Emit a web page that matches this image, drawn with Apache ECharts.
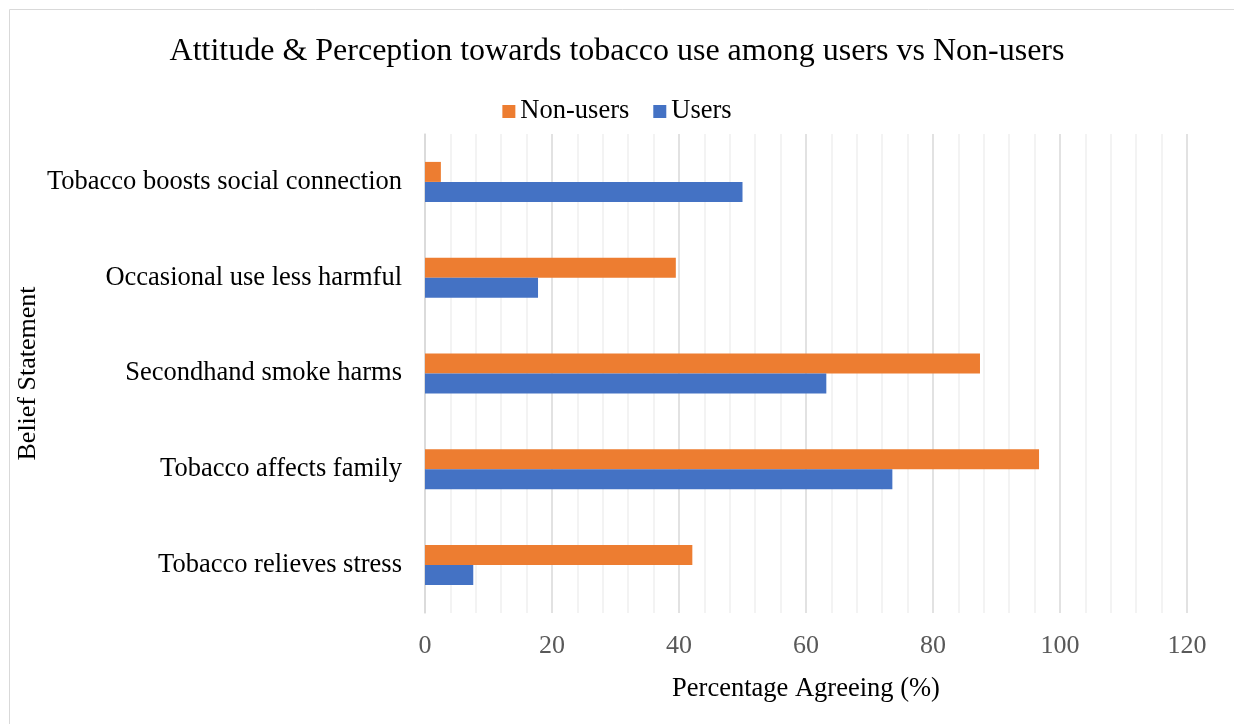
<!DOCTYPE html>
<html>
<head>
<meta charset="utf-8">
<script src="https://cdn.jsdelivr.net/npm/echarts@6/dist/echarts.min.js"></script>
<style>
  html, body { margin: 0; padding: 0; background: #fff; }
  #chart { width: 1234px; height: 724px; }
</style>
</head>
<body>
<div id="chart"></div>
<script>
// 类别，从下到上
const categories = [
  "Tobacco relieves stress",
  "Tobacco affects family",
  "Secondhand smoke harms",
  "Occasional use less harmful",
  "Tobacco boosts social connection"
];
// 数值 (%)
const nonUsers = [42.1, 96.7, 87.4, 39.5, 2.5];
const users = [7.6, 73.6, 63.2, 17.8, 50.0];

const font = "'Liberation Serif', 'Times New Roman', serif";

const myChart = echarts.init(document.getElementById("chart"));
const option = {
  animation: false,
  graphic: [
    {
      type: "rect",
      shape: { x: 9.5, y: 9.5, width: 1300, height: 800 },
      style: { fill: "none", stroke: "#d9d9d9", lineWidth: 1 },
      silent: true
    }
  ],
  title: {
    text: "Attitude & Perception towards tobacco use among users vs Non-users",
    left: "center",
    top: 31,
    textStyle: { fontFamily: font, fontWeight: "normal", fontSize: 32, color: "#000" }
  },
  legend: {
    data: ["Non-users", "Users"],
    top: 93,
    left: "center",
    itemWidth: 13,
    itemHeight: 13,
    itemGap: 24,
    icon: "rect",
    textStyle: { fontFamily: font, fontSize: 26.5, color: "#000" }
  },
  grid: { left: 425, right: 47, top: 134, bottom: 111 },
  xAxis: {
    type: "value",
    min: 0,
    max: 120,
    interval: 20,
    name: "Percentage Agreeing (%)",
    nameLocation: "middle",
    nameGap: 63,
    nameTextStyle: { fontFamily: font, fontSize: 26.5, color: "#000" },
    axisLine: { show: false },
    axisTick: { show: false },
    axisLabel: { fontFamily: font, fontSize: 26, color: "#595959", margin: 20 },
    splitLine: { show: true, lineStyle: { color: "#d9d9d9", width: 1.5 } },
    minorTick: { show: false, splitNumber: 5 },
    minorSplitLine: { show: true, lineStyle: { color: "#f0f0f0", width: 1.5 } }
  },
  yAxis: {
    type: "category",
    data: categories,
    name: "Belief Statement",
    nameLocation: "middle",
    nameRotate: 90,
    nameGap: 384,
    nameMoveOverlap: false,
    nameTextStyle: { fontFamily: font, fontSize: 26, color: "#000" },
    axisLine: { show: true, lineStyle: { color: "#d9d9d9", width: 1.5 } },
    axisTick: { show: false },
    axisLabel: { fontFamily: font, fontSize: 26.5, color: "#000", margin: 23 }
  },
  series: [
    {
      name: "Non-users",
      type: "bar",
      data: nonUsers,
      barWidth: 20,
      barGap: "0%",
      itemStyle: { color: "#ED7D31" }
    },
    {
      name: "Users",
      type: "bar",
      data: users,
      barWidth: 20,
      barGap: "0%",
      itemStyle: { color: "#4472C4" }
    }
  ]
};
myChart.setOption(option);
</script>
</body>
</html>
